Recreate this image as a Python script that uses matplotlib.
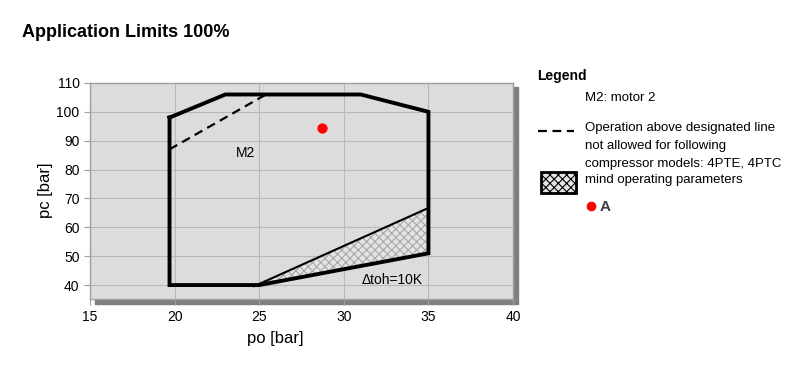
import matplotlib.pyplot as plt
from matplotlib.patches import Polygon, Rectangle
from matplotlib.lines import Line2D

plt.rcParams['font.family'] = ['Liberation Sans', 'DejaVu Sans']
plt.rcParams['hatch.linewidth'] = 0.8

# Einsatzgrenze (po, pc)
grenze_po = [19.7, 23.0, 31.0, 35.0, 35.0, 25.0, 19.7, 19.7]
grenze_pc = [98.0, 106.0, 106.0, 100.0, 51.0, 40.0, 40.0, 98.0]

# gestrichelte Linie M2
m2_po = [19.7, 25.4]
m2_pc = [87.0, 106.0]

# schraffierter Bereich
schraff_po = [25.0, 35.0, 35.0]
schraff_pc = [40.0, 66.7, 51.0]
obere_kante_po = [24.7, 35.0]
obere_kante_pc = [39.6, 66.7]

# Betriebspunkt A
punkt_po = [28.7]
punkt_pc = [94.5]

x_ticks = [15, 20, 25, 30, 35, 40]
y_ticks = [40, 50, 60, 70, 80, 90, 100, 110]

legende_text = ['Operation above designated line', 'not allowed for following',
                'compressor models: 4PTE, 4PTC']

fig = plt.figure(figsize=(8, 3.77), dpi=100)
ax = fig.add_axes([0.1125, 0.2056, 0.5288, 0.5744])

# Schatten hinter dem Diagramm
pos = ax.get_position()
fig.patches.append(Rectangle((pos.x0 + 0.006, pos.y0 - 0.012), pos.width, pos.height,
                             transform=fig.transFigure, color='#7f7f7f', zorder=-1))

ax.set_facecolor('#dcdcdc')
ax.set_xlim(15, 40)
ax.set_ylim(35, 110)
ax.set_xticks(x_ticks)
ax.set_yticks(y_ticks)
ax.grid(True, color='#b8b8b8', linewidth=0.8)
ax.set_axisbelow(True)
for s in ax.spines.values():
    s.set_color('#a0a0a0')
    s.set_linewidth(1)
ax.tick_params(length=4, color='#a0a0a0', labelsize=10)

ax.add_patch(Polygon(list(zip(schraff_po, schraff_pc)), closed=True, facecolor='#e4e4e4',
                     edgecolor='#a8a8a8', hatch='xxxx', linewidth=0, zorder=2))
ax.plot(obere_kante_po, obere_kante_pc, color='black', linewidth=1.5, zorder=3)
ax.plot(grenze_po, grenze_pc, color='black', linewidth=2.8, solid_joinstyle='miter', zorder=4)
ax.plot(m2_po, m2_pc, color='black', linewidth=1.6, linestyle=(0, (4, 2.5)), zorder=4)
ax.scatter(punkt_po, punkt_pc, s=55, color='#ff0000', zorder=5, linewidths=0)

ax.text(24.2, 85.8, 'M2', fontsize=10, ha='center', va='center')
ax.text(32.85, 41.7, 'Δtoh=10K', fontsize=10, ha='center', va='center')

fig.text(0.344, 0.103, 'po [bar]', fontsize=12, ha='center', va='center')
fig.text(0.057, 0.495, 'pc [bar]', fontsize=12, ha='center', va='center', rotation=90)

fig.text(0.0275, 0.915, 'Application Limits 100%', fontsize=13, fontweight='bold',
         ha='left', va='center')

# Legende
fig.text(0.672, 0.798, 'Legend', fontsize=10, fontweight='bold', ha='left', va='center')
fig.text(0.731, 0.740, 'M2: motor 2', fontsize=9.5, ha='left', va='center')
fig.add_artist(Line2D([0.673, 0.718], [0.652, 0.652], transform=fig.transFigure,
                      color='black', linewidth=1.6, linestyle=(0, (4, 2.5))))
for i, zeile in enumerate(legende_text):
    fig.text(0.731, 0.660 - i * 0.0477, zeile, fontsize=9.5, ha='left', va='center')
fig.patches.append(Rectangle((0.676, 0.488), 0.044, 0.057, transform=fig.transFigure,
                             facecolor='#e4e4e4', edgecolor='black', hatch='xxxx',
                             linewidth=2))
fig.text(0.731, 0.522, 'mind operating parameters', fontsize=9.5, ha='left', va='center')
fig.add_artist(Line2D([0.739], [0.454], transform=fig.transFigure, marker='o',
                      markersize=7, color='#ff0000', markeredgewidth=0))
fig.text(0.750, 0.450, 'A', fontsize=11, fontweight='bold', color='#404040',
         ha='left', va='center')

fig.savefig('out.png', dpi=100)
